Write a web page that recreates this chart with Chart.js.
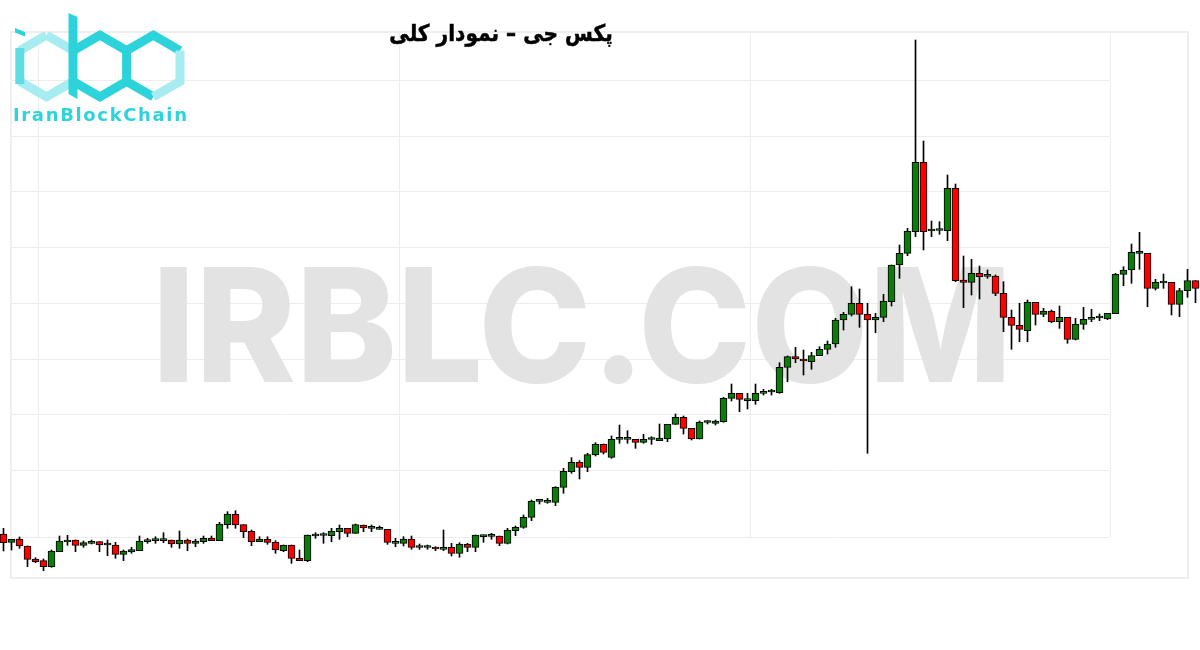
<!DOCTYPE html>
<html lang="fa">
<head>
<meta charset="utf-8">
<title>پکس جی – نمودار کلی</title>
<script src="https://cdn.jsdelivr.net/npm/chart.js@4.4.1/dist/chart.umd.min.js"></script>
<style>
  html, body { margin: 0; background: #fff; }
  #wrap { position: relative; width: 1200px; height: 650px; overflow: hidden; }
  #title { position: absolute; left: 0; top: 20px; width: 1002px; text-align: center;
           font: bold 23px "DejaVu Sans", sans-serif; color: #000; direction: rtl;
           transform: scaleX(0.875); transform-origin: 501px 0;
           -webkit-text-stroke: 0.5px #000; }
  #logo { position: absolute; left: 0; top: 0; }
</style>
</head>
<body>
<div id="wrap">
  <canvas id="chart"></canvas>
  <svg id="logo" width="200" height="130" viewBox="0 0 200 130">
    <g fill="none" stroke-width="9" stroke-linejoin="miter">
      <path d="M46.5 35.2 L73.2 50.6 M46.5 35.2 L19.8 50.6 M19.8 81.4 L46.5 96.8 L73.2 81.4" stroke="#a6ecf0"/>
      <path d="M19.8 48 L19.8 84" stroke="#5edde3"/>
      <path d="M73.2 50.6 L99.9 35.2 L126.6 50.6 L126.6 81.4 L99.9 96.8 L73.2 81.4" stroke="#2cd3db"/>
      <path d="M126.6 50.6 L153.3 35.2 L180 50.6 M153.3 96.8 L126.6 81.4" stroke="#2cd3db"/>
      <path d="M180 50.6 L180 81.4 L153.3 96.8" stroke="#a6ecf0"/>
    </g>
    <polygon points="68.5,13 77.5,17 77.5,99 68.5,94" fill="#2cd3db"/>
    <polygon points="15,28 25,32 25,36.5 15,32.5" fill="#2cd3db"/>
    <text x="13" y="121" font-family="DejaVu Sans" font-weight="bold" font-size="18"
          fill="#2fd3dc" textLength="174" lengthAdjust="spacing">IranBlockChain</text>
  </svg>
  <div id="title">پکس جی – نمودار کلی</div>
</div>
<script>
// OHLC, one candle per period (price units = arbitrary, no axis shown)
const opens = [
  1116, 1107.7, 1111, 1104, 1091, 1089.3, 1083.3, 1098.3, 1108, 1110,
  1104.7, 1106.7, 1108.3, 1105, 1105, 1095.7, 1098, 1099.3, 1108.3, 1109.3,
  1109.3, 1110, 1106, 1110, 1106.7, 1108.3, 1111.7, 1109.3, 1125.3, 1135.7,
  1125.3, 1118.7, 1108.3, 1110.7, 1107.7, 1099.3, 1105, 1091.7, 1089.3, 1114,
  1114.5, 1114.3, 1118.3, 1121.7, 1116.7, 1125, 1121.7, 1120.7, 1120.7, 1106.7,
  1106.7, 1111, 1102.5, 1102.5, 1102.7, 1100.7, 1102.7, 1096.7, 1105.7, 1102.7,
  1113.3, 1113.7, 1114, 1106.7, 1119.3, 1122.7, 1132.7, 1148.7, 1147.7, 1147.7,
  1162.7, 1178.3, 1187.7, 1182.7, 1195, 1205.7, 1192.7, 1210.7, 1210.7, 1210.7,
  1207.7, 1210.5, 1209.3, 1211, 1225.7, 1232.7, 1221.7, 1211, 1227.5, 1226.7,
  1228.3, 1251.7, 1256.7, 1249.3, 1249.3, 1256.7, 1258, 1257.3, 1282.7, 1293.3,
  1290.7, 1288.3, 1294.3, 1300.7, 1306, 1330, 1335.7, 1346.7, 1335.7, 1330,
  1332.7, 1348.3, 1385, 1396.7, 1418.3, 1487.7, 1419, 1419.5, 1419.3, 1461.7,
  1370, 1367.7, 1376.7, 1373.7, 1374, 1356.7, 1332.7, 1324.7, 1319.3, 1347.7,
  1335.7, 1339, 1328.3, 1332.7, 1310.7, 1325.7, 1330.7, 1332, 1331, 1336.3,
  1375.7, 1380, 1396.7, 1396.7, 1361.7, 1367, 1367.7, 1345.7, 1359.3, 1369.3
];
const highs = [
  1121.7, 1110.7, 1113, 1104, 1092.3, 1091, 1100, 1114, 1114.7, 1110,
  1109, 1110, 1108.3, 1110, 1107.7, 1100, 1102.7, 1114, 1111.7, 1113.3,
  1117.3, 1110, 1119, 1111, 1110.7, 1114, 1114, 1127.7, 1138.3, 1139.3,
  1125.3, 1120, 1113.3, 1113.3, 1109.3, 1105, 1105, 1100, 1115, 1117.3,
  1117.3, 1121.7, 1125, 1121.7, 1126, 1125, 1125, 1124, 1120.7, 1111.7,
  1113.3, 1114, 1106, 1105, 1103.3, 1120, 1106.7, 1107.3, 1106.7, 1115,
  1115, 1116.7, 1114, 1121.7, 1124, 1135, 1150, 1150.7, 1151.7, 1163.3,
  1181.7, 1192.3, 1189.3, 1196.7, 1207.3, 1206, 1214, 1225, 1219.3, 1210.7,
  1215.7, 1213.3, 1226, 1225.7, 1236, 1234, 1221.7, 1229, 1229.3, 1230,
  1252.7, 1266, 1256.7, 1256.7, 1266, 1260.7, 1260.7, 1287.3, 1294, 1302.7,
  1300, 1297.7, 1303.3, 1309, 1331.7, 1337.7, 1363.3, 1361, 1346.7, 1336.7,
  1355.7, 1385, 1405, 1421.7, 1610, 1509, 1429, 1428.3, 1475, 1466,
  1394, 1390.7, 1384, 1380, 1375, 1368.3, 1340, 1346.7, 1350, 1347.7,
  1341.7, 1340, 1344, 1332.7, 1331.7, 1342.7, 1340.7, 1336, 1336.7, 1376.7,
  1383.3, 1406, 1417.7, 1396.7, 1370.7, 1376, 1367.7, 1361.7, 1380.7, 1369.3
];
const lows = [
  1099, 1100, 1101.7, 1083.3, 1087.3, 1079.3, 1082.7, 1098.3, 1104.7, 1098.3,
  1102.7, 1106, 1098.3, 1094.3, 1091.7, 1089.3, 1096.7, 1099.3, 1106.7, 1106.7,
  1107.3, 1102.7, 1101.7, 1099.3, 1103.3, 1106.7, 1109.3, 1109.3, 1121.7, 1121.7,
  1112.3, 1104.3, 1108.3, 1105.7, 1096.7, 1098.3, 1086.7, 1089.3, 1088.3, 1111.7,
  1106.7, 1108.3, 1110.7, 1113.3, 1116.7, 1118.3, 1118.3, 1120.7, 1105.7, 1103.3,
  1104, 1100.7, 1100.7, 1100.7, 1099.3, 1099.3, 1094, 1092.7, 1098.3, 1098.3,
  1107.7, 1110.7, 1104.3, 1106, 1114.3, 1121.7, 1129.3, 1146, 1146.7, 1144.3,
  1156.7, 1176.7, 1171, 1178.3, 1194, 1196, 1191.7, 1206.7, 1206.7, 1201.7,
  1206.7, 1205.7, 1209.3, 1208.3, 1225.7, 1216, 1210, 1211, 1226, 1225,
  1227.7, 1249, 1238.3, 1241, 1245.7, 1255, 1255, 1256.7, 1268.3, 1287.3,
  1275, 1280.7, 1294.3, 1296, 1302.7, 1320, 1334, 1322.7, 1196.7, 1317.3,
  1328.3, 1344, 1371.7, 1394.3, 1413.3, 1400, 1413.3, 1415.7, 1409.3, 1368.3,
  1342.3, 1355, 1351, 1371.7, 1354.3, 1318.3, 1300.7, 1308.3, 1308.3, 1325,
  1333.3, 1327.3, 1321.7, 1306.7, 1310, 1320.7, 1328.3, 1329.3, 1330.3, 1336.3,
  1364.3, 1366.7, 1380.7, 1343.3, 1360, 1361.7, 1335, 1333.3, 1352.7, 1347.3
];
const closes = [
  1107.3, 1110.7, 1104, 1090.7, 1088.3, 1083.3, 1099, 1109, 1110, 1104.7,
  1107.3, 1108.3, 1105, 1105.5, 1095.7, 1099, 1100.3, 1109, 1110, 1111,
  1111, 1106, 1110, 1106.7, 1109, 1111.7, 1109.3, 1126, 1136, 1125,
  1118.3, 1108.3, 1111, 1107.7, 1100, 1105, 1091.7, 1089.3, 1115, 1115,
  1115, 1119, 1121.7, 1116.7, 1125.3, 1122, 1122.2, 1122.3, 1107.7, 1107.7,
  1111, 1102.7, 1103, 1103, 1101, 1102.7, 1096.7, 1106, 1102.7, 1115,
  1115, 1114, 1106.7, 1120, 1122.7, 1132.7, 1149, 1149.2, 1149, 1162.7,
  1178.7, 1187.7, 1182.7, 1195.3, 1206, 1197.7, 1210.7, 1211.7, 1211.2, 1207.7,
  1210.7, 1211, 1212, 1225.7, 1232.7, 1221.7, 1211, 1228, 1228, 1229,
  1251.7, 1256.7, 1250.7, 1250.7, 1256.7, 1258.3, 1258.5, 1282.7, 1293.3, 1291,
  1289, 1294.3, 1300.7, 1306, 1330, 1335.7, 1346.7, 1335.7, 1330, 1332.7,
  1349, 1385, 1396.7, 1419, 1487.7, 1418.3, 1420, 1420, 1461.7, 1369.3,
  1367.7, 1376.7, 1373.3, 1374, 1356.7, 1332.7, 1324.7, 1320.7, 1347.7, 1335.7,
  1339, 1328.3, 1332.7, 1310.7, 1325.7, 1330.7, 1332.7, 1332.5, 1336.7, 1375.7,
  1380, 1397.7, 1397.7, 1361.7, 1367.7, 1367.5, 1345.7, 1359.3, 1369.3, 1361.7
];
const periods = opens.map((_, i) => i);

// faint grid of the original screenshot
const gridPrices = [1570, 1514.3, 1458.6, 1403, 1347.2, 1291.5, 1235.8, 1180, 1113];
const gridPeriods = [4.25, 49.4, 93.3, 138.25];

const WATERMARK = "IRBLC.COM";
const UP = "#0a7d0a";
const DOWN = "#ff0000";

const backdrop = {
  id: "backdrop",
  beforeDatasetsDraw(chart) {
    const { ctx, chartArea: a, scales: { x, y } } = chart;
    ctx.save();
    ctx.strokeStyle = "#eeeeee";
    ctx.lineWidth = 2;
    ctx.strokeRect(a.left, a.top, a.right - a.left, a.bottom - a.top);

    ctx.lineWidth = 1;
    ctx.strokeStyle = "#ededed";
    const xEnd = x.getPixelForValue(gridPeriods[gridPeriods.length - 1]);
    const yEnd = y.getPixelForValue(gridPrices[gridPrices.length - 1]);
    gridPrices.forEach(v => {
      const py = Math.round(y.getPixelForValue(v)) + 0.5;
      ctx.beginPath(); ctx.moveTo(a.left, py); ctx.lineTo(xEnd, py); ctx.stroke();
    });
    gridPeriods.forEach(v => {
      const px = Math.round(x.getPixelForValue(v)) + 0.5;
      ctx.beginPath(); ctx.moveTo(px, a.top); ctx.lineTo(px, yEnd); ctx.stroke();
    });

    ctx.fillStyle = "#e3e3e3";
    ctx.font = "800 158px Inter";
    ctx.textBaseline = "alphabetic";
    const w = ctx.measureText(WATERMARK).width;
    ctx.translate(152, 382);
    ctx.scale(860 / w, 1);
    ctx.fillText(WATERMARK, 0, 0);
    ctx.restore();
  }
};

new Chart(document.getElementById("chart"), {
  type: "bar",
  data: {
    datasets: [
      {
        label: "body",
        data: periods.map(i => ({ x: i, y: [opens[i], closes[i]] })),
        backgroundColor: c => closes[c.dataIndex] >= opens[c.dataIndex] ? UP : DOWN,
        borderColor: "#000",
        borderWidth: 1,
        borderSkipped: false,
        barThickness: 7,
        minBarLength: 2,
        grouped: false,
        clip: false,
        order: 0,
      },
      {
        label: "wick",
        data: periods.map(i => ({ x: i, y: [lows[i], highs[i]] })),
        backgroundColor: "#000",
        borderWidth: 0,
        barThickness: 1,
        grouped: false,
        clip: false,
        order: 1,
      },
    ],
  },
  options: {
    responsive: true,
    maintainAspectRatio: false,
    animation: false,
    layout: { padding: { left: 11, right: 12, top: 32, bottom: 72 } },
    plugins: { legend: { display: false }, tooltip: { enabled: false }, title: { display: false } },
    scales: {
      x: { type: "linear", min: 0.9375, max: 148.0625, offset: false, display: false },
      y: { type: "linear", min: 1072, max: 1618, display: false },
    },
  },
  plugins: [backdrop],
});
</script>
</body>
</html>
